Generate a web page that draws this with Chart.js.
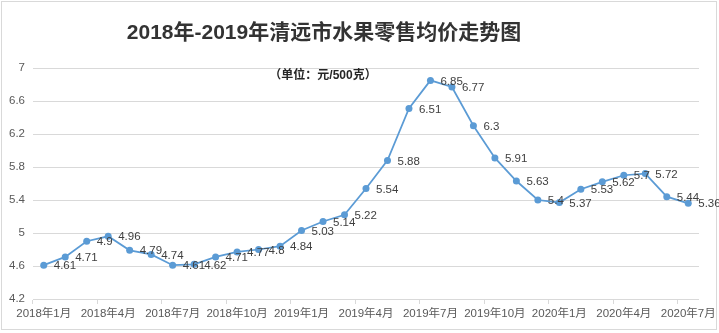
<!DOCTYPE html>
<html>
<head>
<meta charset="utf-8">
<script src="https://cdn.jsdelivr.net/npm/chart.js@4.4.1/dist/chart.umd.min.js"></script>
<style>
  html, body { margin: 0; padding: 0; background: #fff; }
  #wrap { width: 719px; height: 333px; position: relative; }
</style>
</head>
<body>
<div id="wrap"><canvas id="priceChart" width="719" height="333"></canvas></div>
<script>
const months = [
  "2018年1月","2018年2月","2018年3月","2018年4月","2018年5月","2018年6月",
  "2018年7月","2018年8月","2018年9月","2018年10月","2018年11月","2018年12月",
  "2019年1月","2019年2月","2019年3月","2019年4月","2019年5月","2019年6月",
  "2019年7月","2019年8月","2019年9月","2019年10月","2019年11月","2019年12月",
  "2020年1月","2020年2月","2020年3月","2020年4月","2020年5月","2020年6月",
  "2020年7月"
];
const prices = [
  4.61, 4.71, 4.9, 4.96, 4.79, 4.74,
  4.61, 4.62, 4.71, 4.77, 4.8, 4.84,
  5.03, 5.14, 5.22, 5.54, 5.88, 6.51,
  6.85, 6.77, 6.3, 5.91, 5.63, 5.4,
  5.37, 5.53, 5.62, 5.7, 5.72, 5.44,
  5.36
];
const titleText = "2018年-2019年清远市水果零售均价走势图";
const unitText = "（单位：元/500克）";

const FONT = "'Liberation Sans', 'Noto Sans CJK SC', sans-serif";

// frame + title + unit note
const decor = {
  id: "decor",
  beforeDraw(chart) {
    const c = chart.ctx;
    c.save();
    c.fillStyle = "#fff";
    c.fillRect(0, 0, chart.width, chart.height);
    c.strokeStyle = "#d9d9d9";
    c.lineWidth = 1;
    c.strokeRect(1.5, 1.5, 715, 328);
    c.restore();
  },
  afterDraw(chart) {
    const c = chart.ctx;
    c.save();
    c.fillStyle = "#333333";
    c.textAlign = "center";
    c.textBaseline = "middle";
    c.font = "bold 21px " + FONT;
    c.fillText(titleText, 324, 33);
    c.font = "bold 12px " + FONT;
    c.fillStyle = "#262626";
    c.fillText(unitText, 323, 76);
    c.restore();
  }
};

// value labels to the right of each point
const valueLabels = {
  id: "valueLabels",
  afterDatasetsDraw(chart) {
    const c = chart.ctx;
    const meta = chart.getDatasetMeta(0);
    c.save();
    c.font = "11.5px " + FONT;
    c.fillStyle = "#404040";
    c.textAlign = "left";
    c.textBaseline = "middle";
    meta.data.forEach((p, i) => {
      c.fillText(String(prices[i]), p.x + 10, p.y + 1);
    });
    c.restore();
  }
};

new Chart(document.getElementById("priceChart"), {
  type: "line",
  data: {
    labels: months,
    datasets: [{
      data: prices,
      borderColor: "#5b9bd5",
      backgroundColor: "#5b9bd5",
      borderWidth: 1.75,
      pointRadius: 3.5,
      pointBorderWidth: 0,
      tension: 0
    }]
  },
  options: {
    responsive: false,
    animation: false,
    layout: { padding: { top: 68, right: 16, left: 0, bottom: 0 } },
    plugins: {
      legend: { display: false },
      title: { display: false },
      tooltip: { enabled: false }
    },
    scales: {
      x: {
        offset: true,
        grid: {
          offset: true,
          drawOnChartArea: false,
          tickLength: 5,
          color: ctx => (ctx.index % 3 === 0 ? "#d9d9d9" : "rgba(0,0,0,0)")
        },
        border: { color: "#d9d9d9" },
        ticks: {
          autoSkip: false,
          maxRotation: 0,
          padding: 3,
          color: "#595959",
          font: { size: 11.5, family: FONT },
          callback: (v, i) => (i % 3 === 0 ? months[i] : "")
        },
        afterFit(scale) { scale.height = 34; }
      },
      y: {
        min: 4.2,
        max: 7,
        grid: { color: "#d9d9d9", drawTicks: false },
        border: { display: false },
        ticks: {
          stepSize: 0.4,
          padding: 8,
          color: "#595959",
          font: { size: 11.5, family: FONT },
          callback: v => String(Math.round(v * 10) / 10)
        },
        afterFit(scale) { scale.width = 33; }
      }
    }
  },
  plugins: [decor, valueLabels]
});
</script>
</body>
</html>
